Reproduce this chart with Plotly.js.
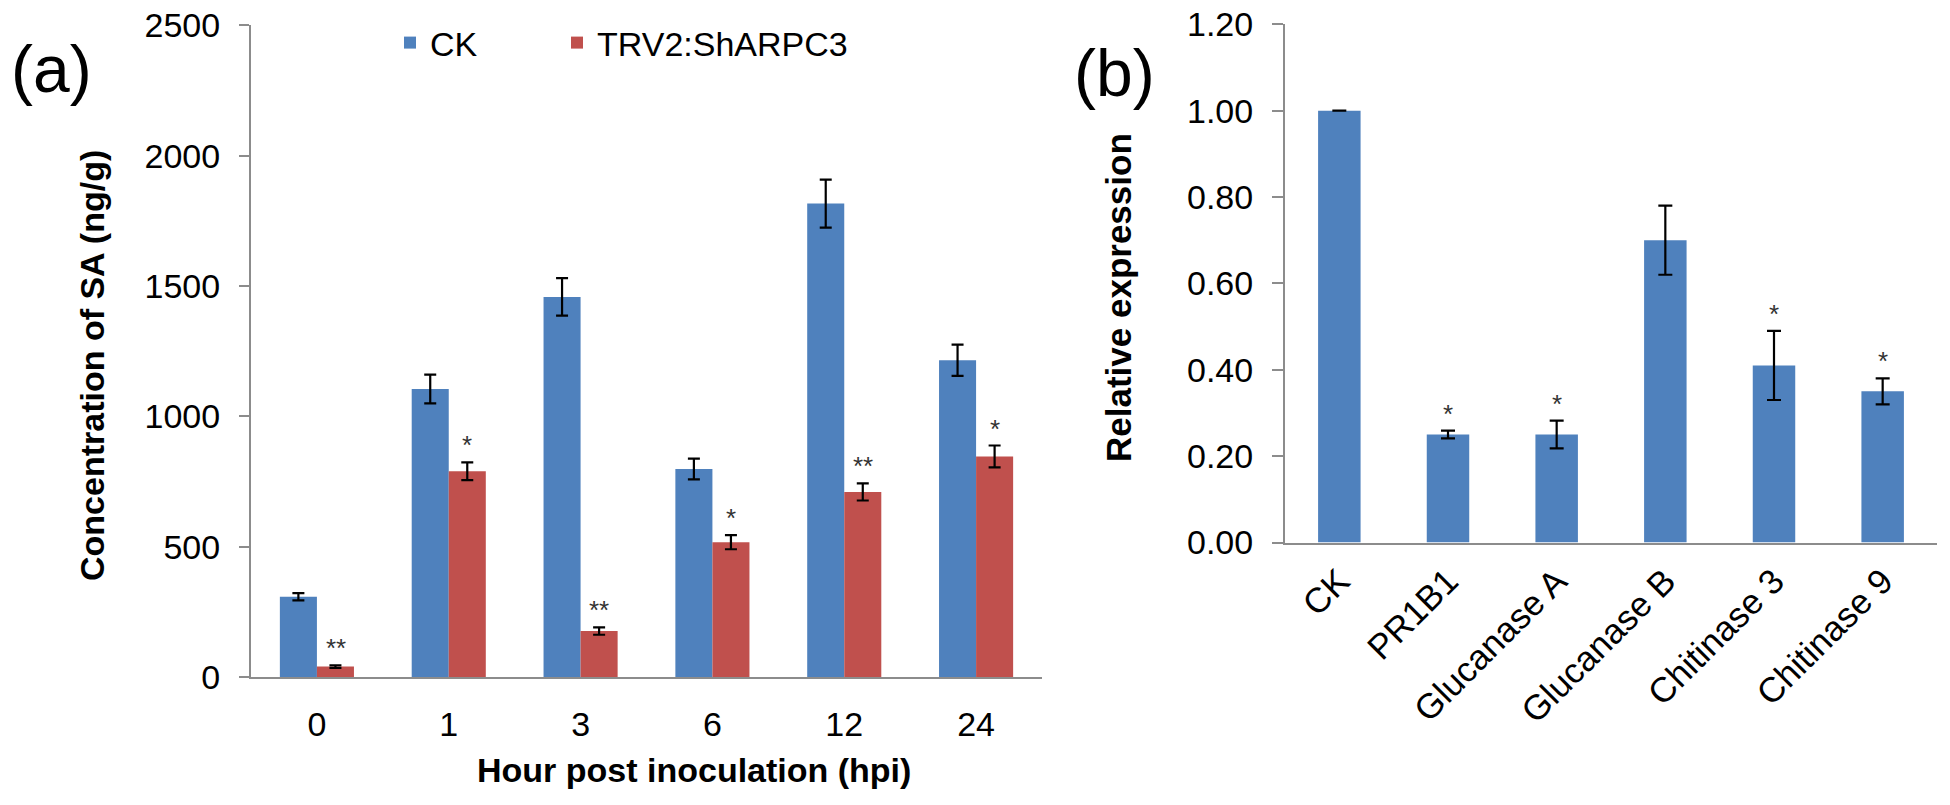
<!DOCTYPE html>
<html><head><meta charset="utf-8">
<script src="https://cdn.plot.ly/plotly-3.0.1.min.js"></script>
<style>html,body{margin:0;padding:0;background:#fff}#chart{width:1950px;height:805px}</style>
</head><body><div id="chart"></div>
<script>
// ---- Panel (a): SA concentration ----
const hours = ['0', '1', '3', '6', '12', '24'];
const ckSA = [308, 1105, 1458, 798, 1816, 1215];
const ckSAErr = [14, 55, 72, 40, 92, 60];
const trvSA = [40, 789, 176, 517, 710, 846];
const trvSAErr = [5, 34, 14, 27, 33, 42];
const trvSig = ['**', '*', '**', '*', '**', '*'];

// ---- Panel (b): relative expression ----
const genes = ['CK', 'PR1B1', 'Glucanase A', 'Glucanase B', 'Chitinase 3', 'Chitinase 9'];
const relExpr = [1.00, 0.25, 0.25, 0.70, 0.41, 0.35];
const relExprErr = [0, 0.009, 0.032, 0.08, 0.08, 0.03];
const relSig = ['', '*', '*', '', '*', '*'];

const W = 1950, H = 805;
const px = v => v / W;
const py = v => 1 - v / H;
const FONT = 'Liberation Sans, Arial, sans-serif';
const BLUE = '#4F81BD', RED = '#C0504D', AXIS = '#8C8C8C';

const errStyle = {type: 'data', color: '#000', thickness: 2.2, width: 6};

const traces = [
  {type: 'bar', name: 'CK', x: hours, y: ckSA, xaxis: 'x', yaxis: 'y',
   marker: {color: BLUE}, error_y: Object.assign({array: ckSAErr}, errStyle),
   legend: 'legend'},
  {type: 'bar', name: 'TRV2:ShARPC3', x: hours, y: trvSA, xaxis: 'x', yaxis: 'y',
   marker: {color: RED}, error_y: Object.assign({array: trvSAErr}, errStyle),
   legend: 'legend2'},
  {type: 'bar', name: 'Relative expression', x: genes, y: relExpr, xaxis: 'x2', yaxis: 'y2',
   width: 0.391, marker: {color: BLUE}, showlegend: false,
   error_y: Object.assign({array: relExprErr}, errStyle, {width: 7})}
];

const annotations = [
  {text: '(a)', x: px(51), y: py(69), xref: 'paper', yref: 'paper', showarrow: false,
   xanchor: 'center', yanchor: 'middle', font: {family: FONT, size: 66, color: '#000'}},
  {text: '(b)', x: px(1114), y: py(73), xref: 'paper', yref: 'paper', showarrow: false,
   xanchor: 'center', yanchor: 'middle', font: {family: FONT, size: 66, color: '#000'}},
  {text: '<b>Concentration of SA (ng/g)</b>', x: px(92), y: py(366), xref: 'paper', yref: 'paper',
   showarrow: false, textangle: -90, xanchor: 'center', yanchor: 'middle',
   font: {family: FONT, size: 34, color: '#000'}},
  {text: '<b>Hour post inoculation (hpi)</b>', x: px(694), y: py(770), xref: 'paper', yref: 'paper',
   showarrow: false, xanchor: 'center', yanchor: 'middle',
   font: {family: FONT, size: 34, color: '#000'}},
  {text: '<b>Relative expression</b>', x: px(1118), y: py(298), xref: 'paper', yref: 'paper',
   showarrow: false, textangle: -90, xanchor: 'center', yanchor: 'middle',
   font: {family: FONT, size: 35, color: '#000'}}
];

// significance marks sit above each bar's error bar (x given as category index)
hours.forEach((h, i) => {
  if (trvSig[i]) annotations.push({
    text: trvSig[i], x: i, y: trvSA[i] + trvSAErr[i], xref: 'x', yref: 'y',
    xshift: 18.6, yshift: 0, yanchor: 'bottom', showarrow: false,
    font: {family: FONT, size: 26, color: '#333'}
  });
});
genes.forEach((g, i) => {
  if (relSig[i]) annotations.push({
    text: relSig[i], x: i, y: relExpr[i] + relExprErr[i], xref: 'x2', yref: 'y2',
    yshift: 0, yanchor: 'bottom', showarrow: false,
    font: {family: FONT, size: 26, color: '#333'}
  });
});

const axisCommon = {
  showline: true, linecolor: AXIS, linewidth: 2, showgrid: false, zeroline: false,
  tickfont: {family: FONT, size: 34, color: '#000'}, fixedrange: true
};

const layout = {
  width: W, height: H,
  margin: {l: 0, r: 0, t: 0, b: 0},
  paper_bgcolor: '#fff', plot_bgcolor: '#fff',
  font: {family: FONT, color: '#000'},
  barmode: 'group', bargap: 0.438, bargroupgap: 0,
  xaxis: Object.assign({}, axisCommon, {
    domain: [px(251), px(1042)], anchor: 'y', type: 'category', ticks: '',
    range: [-0.5, 5.5], autorange: false, ticklabelstandoff: 16
  }),
  yaxis: Object.assign({}, axisCommon, {
    domain: [py(677), py(25.3)], anchor: 'x', range: [0, 2500], dtick: 500, tick0: 0,
    ticks: 'outside', ticklen: 10, tickwidth: 2, tickcolor: AXIS, ticklabelstandoff: 12
  }),
  xaxis2: Object.assign({}, axisCommon, {
    domain: [px(1285), px(1937)], anchor: 'y2', type: 'category', ticks: '', tickangle: -45,
    range: [-0.5, 5.5], autorange: false, ticklabelstandoff: 2,
    tickfont: {family: FONT, size: 35, color: '#000'}
  }),
  yaxis2: Object.assign({}, axisCommon, {
    domain: [py(542.5), py(24.3)], anchor: 'x2', range: [0, 1.2], dtick: 0.2, tick0: 0,
    tickformat: '.2f', ticks: 'outside', ticklen: 11, tickwidth: 2, tickcolor: AXIS,
    ticklabelstandoff: 12
  }),
  legend: {x: px(390), y: py(43), xanchor: 'left', yanchor: 'middle', orientation: 'h',
           font: {family: FONT, size: 34, color: '#000'}, bgcolor: 'rgba(0,0,0,0)'},
  legend2: {x: px(557), y: py(43), xanchor: 'left', yanchor: 'middle', orientation: 'h',
            font: {family: FONT, size: 34, color: '#000'}, bgcolor: 'rgba(0,0,0,0)'},
  annotations: annotations,
  showlegend: true
};

Plotly.newPlot('chart', traces, layout, {displayModeBar: false, staticPlot: true});
</script>
</body></html>
